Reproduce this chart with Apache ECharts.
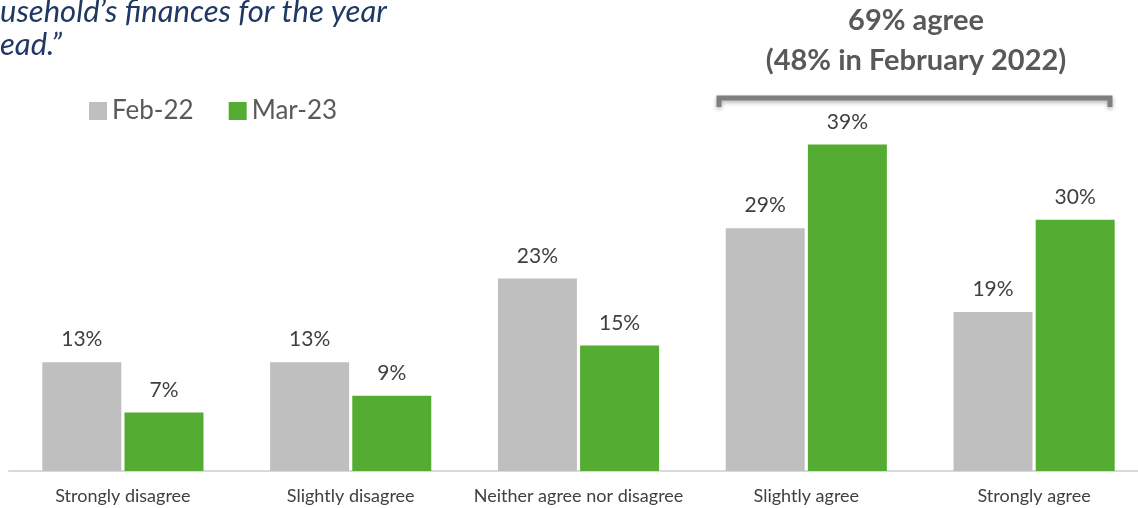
<!DOCTYPE html>
<html>
<head>
<meta charset="utf-8">
<script src="https://cdn.jsdelivr.net/npm/echarts@6/dist/echarts.min.js"></script>
<style>
  html, body { margin: 0; padding: 0; background: #fff; overflow: hidden; }
  /* chart is a bit wider than the window, the right edge is cut off like the original */
  #chart { width: 1150px; height: 508px; }
</style>
</head>
<body>
<div id="chart"></div>
<script>
// data
const categories = ['Strongly disagree', 'Slightly disagree', 'Neither agree nor disagree', 'Slightly agree', 'Strongly agree']
const seriesNames = ['Feb-22', 'Mar-23']
const feb22 = [13, 13, 23, 29, 19]
const mar23 = [7, 9, 15, 39, 30]

const FONT = 'Lato, "Open Sans", sans-serif'
const myChart = echarts.init(document.getElementById('chart'))

//柱子上方的数字
const barLabel = {
  show: true,
  position: 'top',
  distance: 12,
  color: '#404040',
  fontFamily: FONT,
  fontSize: 21,
  formatter: '{c}%'
}

const option = {
  backgroundColor: '#fff',
  animation: false,
  grid: {
    left: 9,
    right: 2,
    top: 136,
    bottom: 37
  },
  legend: {
    data: seriesNames,
    left: 84,
    top: 93,
    icon: 'rect',
    itemWidth: 18,
    itemHeight: 18,
    itemGap: 35,
    textStyle: {
      color: '#595959',
      fontFamily: FONT,
      fontSize: 26
    }
  },
  xAxis: {
    type: 'category',
    data: categories,
    axisLine: { lineStyle: { color: '#d9d9d9', width: 2 } },
    axisTick: { show: false },
    axisLabel: {
      color: '#404040',
      fontFamily: FONT,
      fontSize: 18,
      margin: 16,
      interval: 0
    }
  },
  yAxis: {
    type: 'value',
    min: 0,
    max: 40,
    show: false,
    splitLine: { show: false }
  },
  series: [
    {
      name: seriesNames[0],
      type: 'bar',
      barWidth: 79,
      barGap: '4%',
      itemStyle: { color: '#bfbfbf' },
      label: barLabel,
      data: feb22
    },
    {
      name: seriesNames[1],
      type: 'bar',
      barWidth: 79,
      barGap: '4%',
      itemStyle: { color: '#54ad32' },
      label: barLabel,
      data: mar23
    }
  ],
  graphic: [
    {
      type: 'text',
      left: 0,
      top: -5,
      style: {
        text: 'usehold\u2019s finances for the year\nead.\u201d',
        font: 'italic 31px ' + FONT,
        fill: '#1f3864',
        lineHeight: 33
      }
    },
    {
      type: 'text',
      x: 916,
      y: 1,
      style: {
        text: '69% agree\n(48% in February 2022)',
        font: 'bold 29px ' + FONT,
        fill: '#595959',
        align: 'center',
        lineHeight: 40
      }
    },
    {
      // bracket over the agree bars
      type: 'polyline',
      shape: { points: [[719, 107], [719, 98], [1110, 98], [1110, 107]] },
      style: {
        stroke: '#7f7f7f',
        lineWidth: 5,
        fill: null,
        shadowColor: 'rgba(0,0,0,0.3)',
        shadowBlur: 4,
        shadowOffsetY: 2
      }
    }
  ]
}

option && myChart.setOption(option)
</script>
</body>
</html>
